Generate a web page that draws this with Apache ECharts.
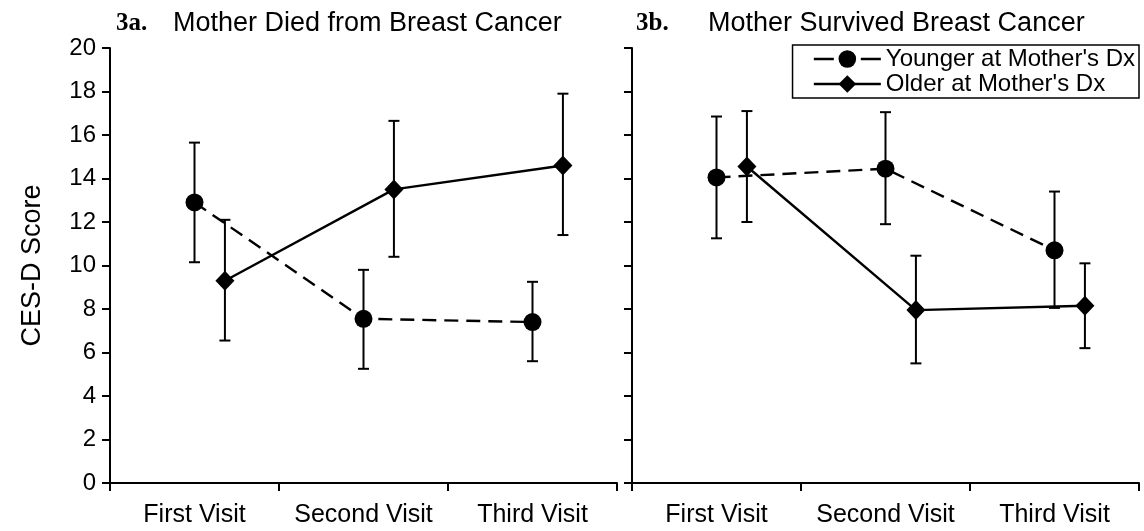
<!DOCTYPE html>
<html><head><meta charset="utf-8">
<script src="https://cdn.jsdelivr.net/npm/echarts@6/dist/echarts.min.js"></script>
<style>html,body{margin:0;padding:0;background:#fff}#c{width:1144px;height:531px}</style>
</head><body><div id="c"></div>
<script>
// ---- data ----
const categories = ['First Visit', 'Second Visit', 'Third Visit'];
const seriesNames = ["Younger at Mother's Dx", "Older at Mother's Dx"];
const panelTitles = ['Mother Died from Breast Cancer', 'Mother Survived Breast Cancer'];
const panelLabels = ['3a.', '3b.'];
const yAxisName = 'CES-D Score';

// 3a. Mother died
const diedYounger     = [12.9, 7.55, 7.4];
const diedYoungerLow  = [10.15, 5.25, 5.6];
const diedYoungerHigh = [15.65, 9.8, 9.25];
const diedOlder       = [9.3, 13.5, 14.6];
const diedOlderLow    = [6.55, 10.4, 11.4];
const diedOlderHigh   = [12.1, 16.65, 17.9];
// 3b. Mother survived
const survYounger     = [14.05, 14.45, 10.7];
const survYoungerLow  = [11.25, 11.9, 8.05];
const survYoungerHigh = [16.85, 17.05, 13.4];
const survOlder       = [14.55, 7.95, 8.15];
const survOlderLow    = [12.0, 5.5, 6.2];
const survOlderHigh   = [17.1, 10.45, 10.1];

// ---- layout / style ----
const FONT = 'Liberation Sans, Arial, sans-serif';
const OLDER_SHIFT = 0.18; // horizontal offset of second group within a category
const pos = (i, shift) => i + 0.5 + shift;
const pts = (vals, shift) => vals.map((v, i) => [pos(i, shift), v]);
const errs = (lo, hi, shift) => lo.map((l, i) => [pos(i, shift), l, hi[i]]);

const plotTop = 48, plotH = 435, plotW = 507;
const grids = [
  {left: 110, top: plotTop, width: plotW, height: plotH},
  {left: 632, top: plotTop, width: plotW, height: plotH}
];

const axisLine = {show: true, lineStyle: {color: '#000', width: 2}};
function catAxis(g) {
  return {
    type: 'category', gridIndex: g, data: categories, boundaryGap: true,
    axisLine: axisLine,
    axisTick: {show: true, length: 8, lineStyle: {color: '#000', width: 2}, alignWithLabel: false},
    axisLabel: {color: '#000', fontSize: 25, fontFamily: FONT, margin: 20, interval: 0},
    splitLine: {show: false}
  };
}
function valXAxis(g) {
  return {type: 'value', gridIndex: g, min: 0, max: 3, show: false};
}
function yAxis(g, showLabels) {
  return {
    type: 'value', gridIndex: g, min: 0, max: 20, interval: 2,
    axisLine: axisLine,
    axisTick: {show: true, length: 8, inside: false, lineStyle: {color: '#000', width: 2}},
    axisLabel: {show: showLabels, color: '#000', fontSize: 24, fontFamily: FONT, margin: 14},
    splitLine: {show: false},
    name: showLabels ? yAxisName : '',
    nameLocation: 'middle', nameRotate: 90, nameGap: 64,
    nameTextStyle: {color: '#000', fontSize: 27, fontFamily: FONT}
  };
}

function errSeries(xi, yi, data) {
  return {
    type: 'custom', xAxisIndex: xi, yAxisIndex: yi, z: 1, silent: true,
    encode: {x: 0, y: [1, 2]},
    data: data,
    renderItem: function (params, api) {
      const lo = api.coord([api.value(0), api.value(1)]);
      const hi = api.coord([api.value(0), api.value(2)]);
      const cap = 5.5;
      const st = {stroke: '#000', lineWidth: 2};
      return {type: 'group', children: [
        {type: 'line', shape: {x1: lo[0], y1: lo[1], x2: hi[0], y2: hi[1]}, style: st},
        {type: 'line', shape: {x1: lo[0] - cap, y1: lo[1], x2: lo[0] + cap, y2: lo[1]}, style: st},
        {type: 'line', shape: {x1: hi[0] - cap, y1: hi[1], x2: hi[0] + cap, y2: hi[1]}, style: st}
      ]};
    }
  };
}
function youngerSeries(xi, yi, vals) {
  return {
    name: seriesNames[0], type: 'line', xAxisIndex: xi, yAxisIndex: yi, z: 3,
    data: pts(vals, 0), symbol: 'circle', symbolSize: 18,
    lineStyle: {color: '#000', width: 2.4, type: [14, 8]},
    itemStyle: {color: '#000'}, animation: false
  };
}
function olderSeries(xi, yi, vals) {
  return {
    name: seriesNames[1], type: 'line', xAxisIndex: xi, yAxisIndex: yi, z: 3,
    data: pts(vals, OLDER_SHIFT), symbol: 'diamond', symbolSize: [19, 20],
    lineStyle: {color: '#000', width: 2.4, type: 'solid'},
    itemStyle: {color: '#000'}, animation: false
  };
}

function title(i, left, gap) {
  return {
    left: left, top: 5,
    text: '{b|' + panelLabels[i] + '}{n|' + panelTitles[i] + '}',
    textStyle: {rich: {
      b: {fontFamily: 'Liberation Serif, Times New Roman, serif', fontWeight: 'bold', fontSize: 25, color: '#000', width: gap},
      n: {fontFamily: FONT, fontWeight: 'normal', fontSize: 27, color: '#000'}
    }}
  };
}

const option = {
  animation: false,
  backgroundColor: '#fff',
  title: [title(0, 111, 57), title(1, 631, 72)],
  grid: grids,
  xAxis: [catAxis(0), valXAxis(0), catAxis(1), valXAxis(1)],
  yAxis: [yAxis(0, true), yAxis(1, false)],
  legend: {
    right: 5, top: 45, orient: 'vertical',
    data: [
      {name: seriesNames[0], lineStyle: {type: [20, 27], width: 2.6}},
      {name: seriesNames[1], lineStyle: {width: 2.6}}
    ],
    itemWidth: 67, itemHeight: 22, itemGap: 1,
    padding: [2, 4, 2, 20],
    borderColor: '#000', borderWidth: 1.5, borderRadius: 0,
    backgroundColor: '#fff',
    textStyle: {color: '#000', fontSize: 24, fontFamily: FONT, lineHeight: 24}
  },
  series: [
    errSeries(1, 0, errs(diedYoungerLow, diedYoungerHigh, 0)),
    errSeries(1, 0, errs(diedOlderLow, diedOlderHigh, OLDER_SHIFT)),
    errSeries(3, 1, errs(survYoungerLow, survYoungerHigh, 0)),
    errSeries(3, 1, errs(survOlderLow, survOlderHigh, OLDER_SHIFT)),
    youngerSeries(1, 0, diedYounger),
    olderSeries(1, 0, diedOlder),
    youngerSeries(3, 1, survYounger),
    olderSeries(3, 1, survOlder)
  ]
};
const chart = echarts.init(document.getElementById('c'), null, {renderer: 'canvas'});
chart.setOption(option);
</script>
</body></html>
